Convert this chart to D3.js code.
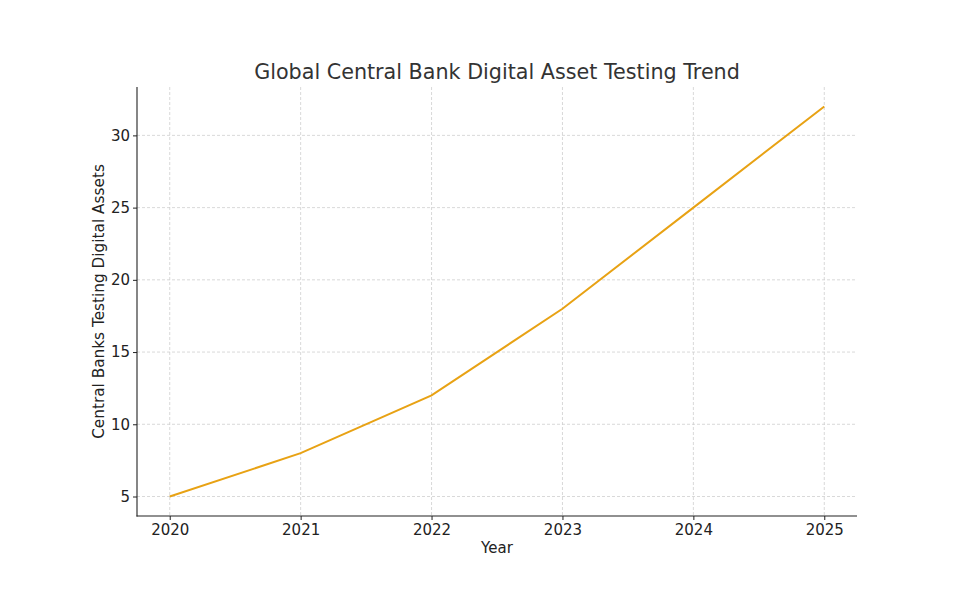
<!DOCTYPE html>
<html><head><meta charset="utf-8">
<script src="https://d3js.org/d3.v7.min.js"></script>
<style>body{margin:0;background:#fff;} svg{display:block;}</style>
</head><body>
<script>
const years = [2020, 2021, 2022, 2023, 2024, 2025];
const banksTesting = [5, 8, 12, 18, 25, 32];
const yTicks = [5, 10, 15, 20, 25, 30];
const titleText = "Global Central Bank Digital Asset Testing Trend";
const xLabel = "Year";
const yLabel = "Central Banks Testing Digital Assets";

const W = 969, H = 598;
const m = {left: 137, right: 969 - 857, top: 87, bottom: 598 - 516};
const svg = d3.select("body").append("svg").attr("width", W).attr("height", H)
  .style("font-family", "DejaVu Sans, sans-serif");

const x = d3.scaleLinear().domain([2019.75, 2025.25]).range([m.left, W - m.right]);
const y = d3.scaleLinear().domain([3.65, 33.35]).range([H - m.bottom, m.top]);

const g = svg.append("g");
g.selectAll(".vg").data(years).enter().append("line")
  .attr("x1", d => x(d)).attr("x2", d => x(d)).attr("y1", m.top).attr("y2", H - m.bottom)
  .attr("stroke", "#cfcfcf").attr("stroke-width", 0.8).attr("stroke-dasharray", "3,2");
g.selectAll(".hg").data(yTicks).enter().append("line")
  .attr("x1", m.left).attr("x2", W - m.right).attr("y1", d => y(d)).attr("y2", d => y(d))
  .attr("stroke", "#cfcfcf").attr("stroke-width", 0.8).attr("stroke-dasharray", "3,2");

const xAxis = svg.append("g").attr("transform", `translate(0,${H - m.bottom})`)
  .call(d3.axisBottom(x).tickValues(years).tickFormat(d3.format("d")).tickSizeOuter(0).tickSize(4).tickPadding(4));
const yAxis = svg.append("g").attr("transform", `translate(${m.left},0)`)
  .call(d3.axisLeft(y).tickValues(yTicks).tickSizeOuter(0).tickSize(4).tickPadding(3));
[xAxis, yAxis].forEach(a => {
  a.select(".domain").remove();
  a.selectAll(".tick line").attr("stroke", "#222");
  a.selectAll(".tick text").attr("fill", "#222").style("font-size", "15px").style("font-family", "DejaVu Sans, sans-serif");
});
svg.append("line").attr("x1", m.left).attr("x2", m.left).attr("y1", m.top).attr("y2", H - m.bottom + 0.5)
  .attr("stroke", "#222").attr("stroke-width", 1.1);
svg.append("line").attr("x1", m.left - 0.5).attr("x2", W - m.right).attr("y1", H - m.bottom).attr("y2", H - m.bottom)
  .attr("stroke", "#222").attr("stroke-width", 1.1);

const line = d3.line().x((d, i) => x(years[i])).y(d => y(d));
svg.append("path").datum(banksTesting).attr("d", line)
  .attr("fill", "none").attr("stroke", "#E8A214").attr("stroke-width", 2);

svg.append("text").attr("x", (m.left + W - m.right) / 2).attr("y", 79)
  .attr("text-anchor", "middle").attr("fill", "#333").style("font-size", "20.7px").text(titleText);
svg.append("text").attr("x", (m.left + W - m.right) / 2).attr("y", 553)
  .attr("text-anchor", "middle").attr("fill", "#222").style("font-size", "15px").text(xLabel);
svg.append("text").attr("transform", `translate(104,${(m.top + H - m.bottom) / 2}) rotate(-90)`)
  .attr("text-anchor", "middle").attr("fill", "#222").style("font-size", "15.3px").text(yLabel);
</script>
</body></html>
